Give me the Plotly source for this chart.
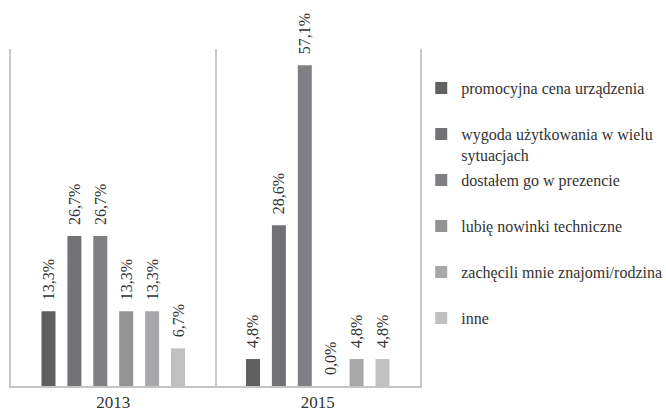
import plotly.graph_objects as go

years = ["2013", "2015"]
series_names = [
    "promocyjna cena urządzenia",
    "wygoda użytkowania w wielu<br>sytuacjach",
    "dostałem go w prezencie",
    "lubię nowinki techniczne",
    "zachęcili mnie znajomi/rodzina",
    "inne",
]
values_2013 = [13.3, 26.7, 26.7, 13.3, 13.3, 6.7]
values_2015 = [4.8, 28.6, 57.1, 0.0, 4.8, 4.8]
colors = ["#606062", "#727276", "#808084", "#939396", "#a8a8ab", "#c0c0c3"]

FONT = "Liberation Serif"
TXT = "#333333"

fig = go.Figure()
legend_ids = ["legend", "legend2", "legend3", "legend4", "legend5", "legend6"]
for i, name in enumerate(series_names):
    fig.add_trace(go.Bar(
        x=years,
        y=[values_2013[i], values_2015[i]],
        name=name,
        marker=dict(color=colors[i], line=dict(width=0)),
        texttemplate="\u00a0\u00a0%{y:.1f}%",
        textposition="outside",
        textangle=-90,
        constraintext="none",
        cliponaxis=False,
        textfont=dict(family=FONT, size=16, color=TXT),
        legend=legend_ids[i],
    ))

# legend slot positions (pixels from top of the page)
slot_px = [88, 134, 180, 226, 272, 318]
plot_top, plot_bottom = 49, 386
layout_legends = {}
for i, lid in enumerate(legend_ids):
    ypaper = (plot_bottom - (slot_px[i] - 17)) / (plot_bottom - plot_top)
    layout_legends[lid] = dict(
        x=1.003, xanchor="left", y=ypaper, yanchor="top",
        font=dict(family=FONT, size=16, color=TXT),
        bgcolor="rgba(0,0,0,0)", borderwidth=0,
        itemwidth=30, valign="top",
    )

fig.update_layout(
    width=666, height=413,
    margin=dict(l=11, r=246, t=49, b=27, autoexpand=False),
    paper_bgcolor="white", plot_bgcolor="white",
    separators=",.",
    barmode="group",
    bargap=0.24,
    bargroupgap=0.46,
    showlegend=True,
    font=dict(family=FONT, size=16, color=TXT),
    xaxis=dict(
        showline=True, linecolor="#c4c4c4", linewidth=1.5,
        showgrid=True, gridcolor="#c8c8c8", gridwidth=1.5,
        tickson="boundaries", ticks="",
        tickfont=dict(family=FONT, size=17, color=TXT),
        fixedrange=True,
    ),
    yaxis=dict(
        range=[0, 60], showgrid=False, zeroline=False,
        showticklabels=False, ticks="",
        showline=True, mirror=True, linecolor="#c8c8c8", linewidth=1.5,
        fixedrange=True,
    ),
    **layout_legends,
)

fig.write_html(
    "out.html",
    config={"displayModeBar": False},
    post_script="document.body.style.margin='0';",
)
